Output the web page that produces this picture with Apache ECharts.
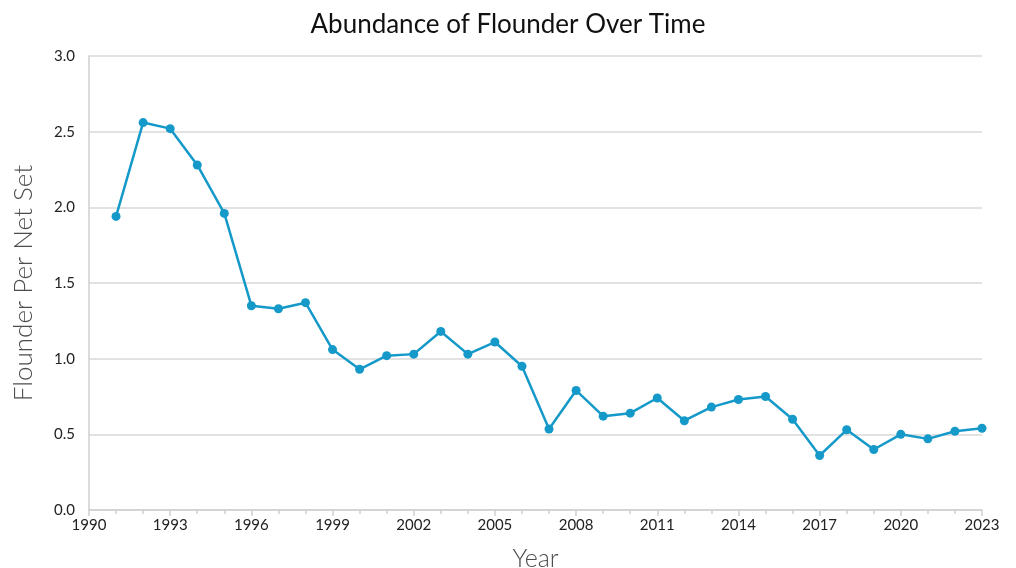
<!DOCTYPE html>
<html lang="en">
  <head>
    <meta charset="UTF-8" />
    <title>Abundance of Flounder Over Time</title>
    <style>
      body {
        margin: 0;
        width: 100vw;
        height: 100vh;
        overflow: hidden;
        background: #ffffff;
      }
      main {
        width: 1016px;
        height: 568px;
      }
    </style>
  </head>
  <body>
    <main></main>
  </body>
</html>
<script src="https://cdn.jsdelivr.net/npm/echarts@6/dist/echarts.min.js"></script>
<script>
  // survey years and flounder catch per net set
  const years = [
    1991, 1992, 1993, 1994, 1995, 1996, 1997, 1998, 1999, 2000, 2001, 2002,
    2003, 2004, 2005, 2006, 2007, 2008, 2009, 2010, 2011, 2012, 2013, 2014,
    2015, 2016, 2017, 2018, 2019, 2020, 2021, 2022, 2023,
  ];
  const perNetSet = [
    1.94, 2.56, 2.52, 2.28, 1.96, 1.35, 1.33, 1.37, 1.06, 0.93, 1.02, 1.03,
    1.18, 1.03, 1.11, 0.95, 0.535, 0.79, 0.62, 0.64, 0.74, 0.59, 0.68, 0.73,
    0.75, 0.6, 0.36, 0.53, 0.4, 0.5, 0.47, 0.52, 0.54,
  ];

  const chart = echarts.init(document.querySelector("main"));
  const font = "Lato, 'Open Sans', sans-serif";

  chart.setOption({
    animation: false,
    textStyle: { fontFamily: font },
    title: {
      text: "Abundance of Flounder Over Time",
      left: "center",
      top: 7,
      textStyle: { fontFamily: font, fontSize: 26, fontWeight: "normal", color: "#111" },
    },
    grid: { left: 89, right: 34, top: 56, bottom: 58, outerBoundsMode: "none", containLabel: false },
    xAxis: {
      type: "value",
      min: 1990,
      max: 2023,
      interval: 3,
      name: "Year",
      nameLocation: "middle",
      nameGap: 36,
      nameTextStyle: { fontSize: 25, color: "#4d4d4d", fontFamily: font, fontWeight: 300 },
      axisLine: { lineStyle: { color: "#cfcfcf", width: 1.5 } },
      axisTick: { show: true, length: 6, lineStyle: { color: "#cfcfcf", width: 1.5 } },
      minorTick: { show: true, splitNumber: 3, length: 4, lineStyle: { color: "#cfcfcf", width: 1.5 } },
      axisLabel: { color: "#222", fontSize: 15, margin: 8, formatter: (v) => String(v) },
      splitLine: { show: false },
    },
    yAxis: {
      type: "value",
      min: 0,
      max: 3,
      interval: 0.5,
      name: "Flounder Per Net Set",
      nameLocation: "middle",
      nameGap: 52,
      nameTextStyle: { fontSize: 26, color: "#4d4d4d", fontFamily: font, fontWeight: 300 },
      axisLine: { show: true, lineStyle: { color: "#cfcfcf", width: 1.5 } },
      axisTick: { show: false },
      axisLabel: { color: "#222", fontSize: 15, margin: 14, formatter: (v) => v.toFixed(1) },
      splitLine: { lineStyle: { color: "#d9d9d9", width: 1.5 } },
    },
    series: [
      {
        type: "line",
        data: years.map((y, i) => [y, perNetSet[i]]),
        symbol: "circle",
        symbolSize: 9,
        lineStyle: { color: "#1499c9", width: 2.5 },
        itemStyle: { color: "#1499c9" },
      },
    ],
  });
</script>
